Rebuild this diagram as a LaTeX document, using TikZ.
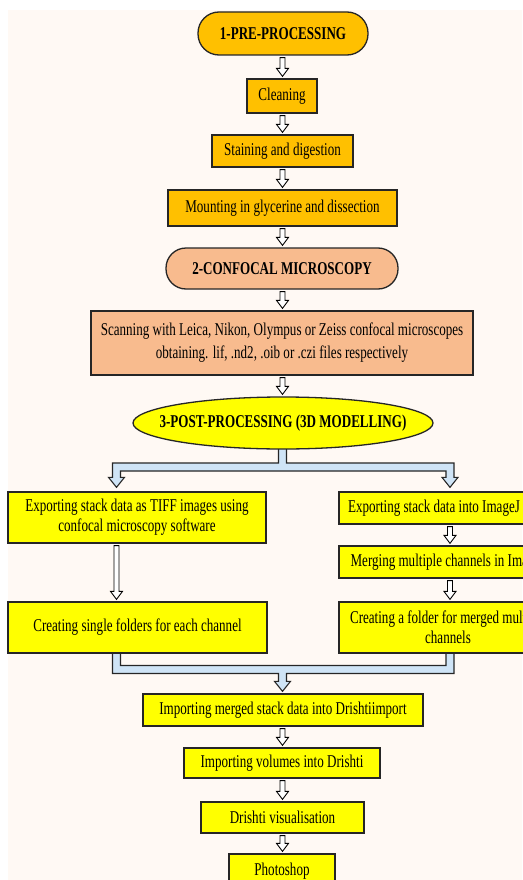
\documentclass[tikz,border=0pt]{standalone}
\usepackage{fontspec}
\setmainfont{Liberation Serif}[FakeStretch=0.725]
\usetikzlibrary{shapes.geometric,calc}
\pgfdeclarelayer{bg}
\pgfsetlayers{bg,main}
\definecolor{gold}{HTML}{FFC000}
\definecolor{salmon}{HTML}{F8BB8E}
\definecolor{yel}{HTML}{FFFF00}
\definecolor{cream}{HTML}{FFF9F4}
\definecolor{lblue}{HTML}{CFE4F6}
\definecolor{edge}{HTML}{262626}
\newcommand\harr[3]{\path[harrst] let \p1=(#1), \p2=(#2.south), \p3=(#3.north) in
  (\x1-2.5pt,\y2-2pt) -- (\x1-2.5pt,\y3+10pt) -- (\x1-6pt,\y3+10pt) -- (\x1,\y3+2pt)
  -- (\x1+6pt,\y3+10pt) -- (\x1+2.5pt,\y3+10pt) -- (\x1+2.5pt,\y2-2pt) -- cycle;}
\begin{document}
\begin{tikzpicture}[x=1pt,y=-1pt,
  box/.style={draw=edge, line width=1.3pt, inner sep=0pt, align=center,
    font=\fontsize{18}{20}\selectfont, text=black},
  goldbox/.style={box, fill=gold},
  salbox/.style={box, fill=salmon},
  yelbox/.style={box, fill=yel},
  pill/.style={rounded corners=#1, font=\fontsize{18}{20}\selectfont\bfseries},
  harrst/.style={draw=black, fill=white, line width=0.9pt, line join=miter},
  bluest/.style={draw=edge, fill=lblue, line width=1.1pt, line join=miter}]
\useasboundingbox (0,0) rectangle (522,880);
\begin{pgfonlayer}{bg}
  \fill[white] (0,0) rectangle (522,880);
  \fill[cream] (8,10) rectangle (522,880);
\end{pgfonlayer}
\coordinate (cx) at (282.5,0);
\coordinate (lx) at (116.5,0);
\coordinate (rx) at (450,0);
\coordinate (barA) at (0,467);
\coordinate (barB) at (0,669.5);
% nodes
\node[goldbox, pill=21pt, minimum width=170pt, minimum height=43pt] (n1) at (283,33.5) {1-PRE-PROCESSING};
\node[goldbox, minimum width=70pt, minimum height=34pt] (clean) at (282,96) {Cleaning};
\node[goldbox, minimum width=141pt, minimum height=32pt] (stain) at (282.5,151) {Staining and digestion};
\node[goldbox, minimum width=229pt, minimum height=36pt] (mount) at (282.5,208) {Mounting in glycerine and dissection};
\node[salbox, pill=20pt, minimum width=232pt, minimum height=41pt] (conf) at (282,268.5) {2-CONFOCAL MICROSCOPY};
\node[salbox, minimum width=382pt, minimum height=64pt, font=\fontsize{18}{23}\selectfont] (scan) at (282,343)
  {Scanning with Leica, Nikon, Olympus or Zeiss confocal microscopes\\obtaining. lif, .nd2, .oib or .czi files respectively};
\node[yelbox, ellipse, inner xsep=-20pt, inner ysep=0pt, minimum width=300pt, minimum height=52pt,
  font=\fontsize{18}{20}\selectfont\bfseries] (post) at (283,423) {3-POST-PROCESSING (3D MODELLING)};
\node[yelbox, minimum width=258pt, minimum height=51pt] (l1) at (137,517.5)
  {Exporting stack data as TIFF images using\\confocal microscopy software};
\node[yelbox, minimum width=259pt, minimum height=51pt] (l2) at (137.5,627.5)
  {Creating single folders for each channel};
\node[yelbox, minimum width=190pt, minimum height=32pt] (r1) at (434,508) {Exporting stack data into ImageJ};
\node[yelbox, minimum width=218pt, minimum height=32pt] (r2) at (448,562) {Merging multiple channels in ImageJ};
\node[yelbox, minimum width=218pt, minimum height=51pt] (r3) at (448,627.5)
  {Creating a folder for merged multiple\\channels};
\node[yelbox, minimum width=280pt, minimum height=32pt] (imp) at (283,710) {Importing merged stack data into Drishtiimport};
\node[yelbox, minimum width=196pt, minimum height=30pt] (vol) at (282,763) {Importing volumes into Drishti};
\node[yelbox, minimum width=163pt, minimum height=31pt] (vis) at (282.5,817.5) {Drishti visualisation};
\node[yelbox, minimum width=106pt, minimum height=34pt] (photo) at (282,871) {Photoshop};
% small hollow arrows
\harr{cx}{n1}{clean}
\harr{cx}{clean}{stain}
\harr{cx}{stain}{mount}
\harr{cx}{mount}{conf}
\harr{cx}{conf}{scan}
\harr{cx}{scan}{post}
\harr{lx}{l1}{l2}
\harr{rx}{r1}{r2}
\harr{rx}{r2}{r3}
\harr{cx}{imp}{vol}
\harr{cx}{vol}{vis}
\harr{cx}{vis}{photo}
% blue split connector
\begin{pgfonlayer}{bg}
\path[bluest] let \p1=(lx|-l1.north), \p2=(rx|-r1.north), \p3=(cx|-barA), \p4=(cx|-post.south) in
  (\x4-4pt,\y4+3pt) -- (\x4-4pt,\y3+4pt) -- (\x1-4pt,\y3+4pt) -- (\x1-4pt,\y1+14pt)
  -- (\x1-8pt,\y1+14pt) -- (\x1,\y1+4pt) -- (\x1+8pt,\y1+14pt) -- (\x1+4pt,\y1+14pt)
  -- (\x1+4pt,\y3-4pt) -- (\x2-4pt,\y3-4pt) -- (\x2-4pt,\y2+14pt) -- (\x2-8pt,\y2+14pt)
  -- (\x2,\y2+4pt) -- (\x2+8pt,\y2+14pt) -- (\x2+4pt,\y2+14pt) -- (\x2+4pt,\y3+4pt)
  -- (\x4+4pt,\y3+4pt) -- (\x4+4pt,\y4+3pt) -- cycle;
% blue merge connector
\path[bluest] let \p1=(lx|-l2.south), \p2=(rx|-r3.south), \p3=(cx|-imp.north), \p4=(cx|-barB) in
  (\x1-4pt,\y1+2pt) -- (\x1-4pt,\y4-4pt) -- (\x3-4pt,\y4-4pt) -- (\x3-4pt,\y3+12pt)
  -- (\x3-8pt,\y3+12pt) -- (\x3,\y3+2pt) -- (\x3+8pt,\y3+12pt) -- (\x3+4pt,\y3+12pt)
  -- (\x3+4pt,\y4-4pt) -- (\x2+4pt,\y4-4pt) -- (\x2+4pt,\y2+2pt) -- (\x2-4pt,\y2+2pt)
  -- (\x2-4pt,\y4+4pt) -- (\x1+4pt,\y4+4pt) -- (\x1+4pt,\y1+2pt) -- cycle;
\end{pgfonlayer}
\end{tikzpicture}
\end{document}
